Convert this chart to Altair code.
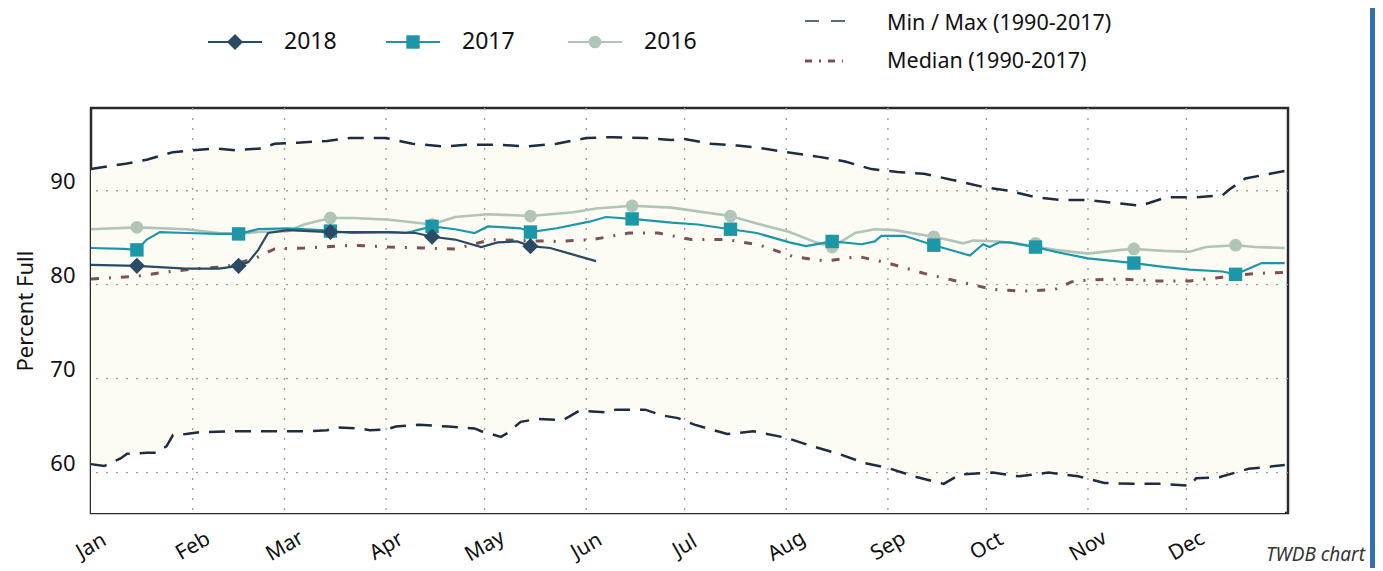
import altair as alt
import pandas as pd

YEAR = 2017

# ---- Historical envelope (1990-2017) ----
max_dates = ["01-01", "01-12", "01-18", "01-26", "02-01", "02-08", "02-14", "02-22", "02-26",
             "03-05", "03-14", "03-21", "04-01", "04-09", "04-19", "04-26", "05-05", "05-14",
             "05-23", "06-01", "06-09", "06-19", "06-27", "07-01", "07-09", "07-17", "07-23",
             "08-01", "08-11", "08-19", "08-27", "09-04", "09-12", "09-20", "09-30", "10-08",
             "10-16", "10-24", "11-01", "11-09", "11-17", "11-25", "12-04", "12-12", "12-14",
             "12-19", "12-31"]
max_vals = [92.3, 92.9, 93.3, 94.1, 94.3, 94.5, 94.3, 94.5, 95.0,
            95.1, 95.3, 95.6, 95.6, 95.0, 94.7, 94.9, 94.9, 94.7,
            95.0, 95.6, 95.7, 95.6, 95.4, 95.5, 95.0, 94.8, 94.6,
            94.1, 93.6, 93.1, 92.3, 92.0, 91.8, 91.2, 90.4, 90.0,
            89.3, 89.0, 89.0, 88.7, 88.4, 89.3, 89.3, 89.5, 90.1,
            91.3, 92.1]

min_dates = ["01-01", "01-05", "01-10", "01-12", "01-18", "01-21", "01-24", "01-26", "01-30",
             "02-03", "02-13", "02-28", "03-07", "03-14", "03-17", "03-24", "03-27", "04-01",
             "04-04", "04-11", "04-20", "04-28", "04-30", "05-06", "05-08", "05-12", "05-17",
             "05-25", "05-30", "06-07", "06-10", "06-19", "06-24", "06-29", "07-04", "07-14",
             "07-22", "08-01", "08-09", "08-17", "08-25", "09-01", "09-09", "09-18", "09-23",
             "10-03", "10-11", "10-20", "10-29", "11-06", "11-15", "11-24", "12-02", "12-04",
             "12-11", "12-20", "12-31"]
min_vals = [60.9, 60.7, 61.5, 62.0, 62.1, 62.1, 62.8, 64.0, 64.1,
            64.3, 64.4, 64.4, 64.4, 64.5, 64.8, 64.7, 64.5, 64.6,
            64.9, 65.1, 64.9, 64.7, 64.4, 63.8, 64.2, 65.4, 65.7,
            65.6, 66.6, 66.4, 66.7, 66.7, 66.1, 65.8, 65.1, 64.1,
            64.4, 63.7, 62.8, 62.0, 61.0, 60.5, 59.6, 58.8, 59.8,
            60.0, 59.6, 60.0, 59.6, 58.9, 58.8, 58.8, 58.6, 59.4,
            59.5, 60.4, 60.8]

med_dates = ["01-01", "01-15", "01-23", "02-02", "02-11", "02-20", "02-26", "03-07", "03-22",
             "04-02", "04-12", "04-22", "05-03", "05-12", "05-23", "06-03", "06-14", "06-23",
             "07-03", "07-14", "07-24", "08-03", "08-13", "08-23", "09-01", "09-12", "09-23",
             "10-03", "10-12", "10-22", "10-27", "11-01", "11-11", "11-22", "12-02", "12-12",
             "12-22", "12-31"]
med_vals = [80.6, 80.9, 81.3, 81.7, 81.9, 82.8, 83.8, 83.9, 84.2,
            84.0, 83.9, 83.8, 84.8, 84.7, 84.6, 84.8, 85.5, 85.5,
            84.8, 84.8, 84.2, 83.0, 82.5, 83.0, 82.3, 81.2, 80.3,
            79.5, 79.3, 79.5, 80.3, 80.5, 80.6, 80.4, 80.4, 80.8,
            81.2, 81.3]

# ---- Yearly series ----
y2016_dates = ["01-01", "01-15", "01-30", "02-09", "02-15", "02-21", "03-02", "03-07", "03-15",
               "03-22", "04-02", "04-15", "04-22", "05-02", "05-15", "05-28", "06-04", "06-15",
               "06-27", "07-05", "07-15", "07-23", "08-02", "08-10", "08-15", "08-22", "08-28",
               "09-03", "09-15", "09-24", "09-27", "10-05", "10-10", "10-22", "11-01", "11-11",
               "11-15", "11-24", "12-02", "12-07", "12-16", "12-22", "12-31"]
y2016_vals = [85.9, 86.1, 85.9, 85.5, 85.4, 85.6, 85.7, 86.4, 87.1,
              87.1, 86.9, 86.4, 87.2, 87.5, 87.3, 87.7, 88.1, 88.4,
              88.2, 87.8, 87.3, 86.5, 85.6, 84.5, 84.0, 85.5, 85.9,
              85.8, 85.1, 84.4, 84.7, 84.6, 84.4, 83.7, 83.3, 83.7,
              83.8, 83.6, 83.5, 84.0, 84.2, 84.0, 83.9]

y2017_dates = ["01-01", "01-11", "01-15", "01-18", "01-22", "01-30", "02-09", "02-15", "02-21",
               "03-02", "03-12", "03-22", "04-02", "04-07", "04-15", "04-22", "04-28", "05-02",
               "05-12", "05-15", "05-23", "06-02", "06-07", "06-15", "06-27", "07-05", "07-15",
               "07-23", "08-02", "08-07", "08-15", "08-24", "08-28", "08-30", "09-06", "09-15",
               "09-22", "09-26", "09-30", "10-02", "10-05", "10-08", "10-16", "10-22", "11-01",
               "11-15", "11-24", "12-02", "12-12", "12-16", "12-24", "12-31"]
y2017_vals = [83.9, 83.8, 83.7, 84.8, 85.6, 85.5, 85.4, 85.4, 85.9,
              86.0, 85.8, 85.5, 85.6, 85.5, 86.2, 85.9, 85.5, 86.2,
              86.0, 85.6, 86.0, 86.7, 87.2, 87.0, 86.6, 86.4, 85.9,
              85.5, 84.5, 84.1, 84.6, 84.3, 84.6, 85.2, 85.2, 84.2,
              83.5, 83.1, 84.3, 84.0, 84.5, 84.5, 84.0, 83.5, 82.8,
              82.3, 81.9, 81.6, 81.4, 81.1, 82.3, 82.3]

y2018_dates = ["01-01", "01-15", "01-30", "02-09", "02-15", "02-18", "02-21", "02-24", "03-02",
               "03-15", "03-22", "04-01", "04-10", "04-15", "04-22", "04-30", "05-05", "05-11",
               "05-15", "05-21", "05-27", "06-04"]
y2018_vals = [82.1, 82.0, 81.7, 81.7, 82.0, 82.4, 83.7, 85.5, 85.8,
              85.6, 85.6, 85.6, 85.5, 85.1, 84.8, 84.0, 84.5, 84.6,
              84.1, 83.9, 83.3, 82.5]

# ---- Markers (15th of each month) ----
mark2016_dates = ["01-15", "02-15", "03-15", "04-15", "05-15", "06-15", "07-15", "08-15",
                  "09-15", "10-16", "11-15", "12-16"]
mark2016_vals = [86.1, 85.4, 87.1, 86.4, 87.3, 88.4, 87.3, 84.0, 85.1, 84.4, 83.8, 84.2]
mark2017_dates = ["01-15", "02-15", "03-15", "04-15", "05-15", "06-15", "07-15", "08-15",
                  "09-15", "10-16", "11-15", "12-16"]
mark2017_vals = [83.7, 85.4, 85.7, 86.2, 85.6, 87.0, 85.9, 84.6, 84.2, 84.0, 82.3, 81.1]
mark2018_dates = ["01-15", "02-15", "03-15", "04-15", "05-15"]
mark2018_vals = [82.0, 82.0, 85.6, 85.1, 84.1]

y_ticks = [60, 70, 80, 90]
month_starts = ["01-01", "02-01", "03-01", "04-01", "05-01", "06-01", "07-01", "08-01",
                "09-01", "10-01", "11-01", "12-01"]

# ---- styling ----
C2018 = "#2b4a63"
C2017 = "#1b97a8"
C2016 = "#b0c4b8"
CMAX = "#1d2d3e"
CMED = "#7d5058"
BAND = "#fcfcf4"
FONT = "Noto Sans"
Y_LO, Y_HI = 55.7, 98.8
W, H = 1197, 405


def frame(dates, vals):
    return pd.DataFrame({"date": [f"{YEAR}-{d}" for d in dates], "value": vals})


xscale = alt.Scale(domain=[alt.DateTime(year=YEAR, month=1, date=1),
                           alt.DateTime(year=YEAR + 1, month=1, date=1)])
yscale = alt.Scale(domain=[Y_LO, Y_HI], nice=False, zero=False)
xaxis = alt.Axis(values=[alt.DateTime(year=YEAR, month=m, date=1) for m in range(1, 13)],
                 format="%b", labelAngle=-30, labelAlign="center", labelBaseline="middle",
                 labelPadding=33, labelOffset=0, labelFontSize=21, labelColor="#111",
                 labelFont=FONT, ticks=False, tickSize=0, domain=False, grid=False,
                 labelBound=False, labelFlush=False, title=None)
yaxis = alt.Axis(values=y_ticks, labelFontSize=22, labelColor="#111", labelFont=FONT,
                 labelPadding=16, labelOffset=-9, ticks=False, tickSize=0, domain=False,
                 grid=False, title="Percent Full", titleFontSize=22, titleFont=FONT,
                 titleFontWeight="normal", titleColor="#111", titlePadding=12)

X = alt.X("date:T", scale=xscale, axis=xaxis)
Y = alt.Y("value:Q", scale=yscale, axis=yaxis)

df_max = frame(max_dates, max_vals)
df_min = frame(min_dates, min_vals)

band_top = alt.Chart(df_max).mark_area(color=BAND, opacity=1).encode(
    x=X, y=Y, y2=alt.datum(Y_LO))
band_bottom = alt.Chart(df_min).mark_area(color="white", opacity=1).encode(
    x=X, y=Y, y2=alt.datum(Y_LO))

grid_v = alt.Chart(pd.DataFrame({"date": [f"{YEAR}-{d}" for d in month_starts[1:]]})).mark_rule(
    color="#a0a0a0", strokeDash=[2, 8], strokeWidth=1.4).encode(x=X)
grid_h = alt.Chart(pd.DataFrame({"value": y_ticks})).mark_rule(
    color="#a0a0a0", strokeDash=[2, 8], strokeWidth=1.4).encode(y=Y)

max_line = alt.Chart(df_max).mark_line(color=CMAX, strokeDash=[16, 10], strokeWidth=2.5).encode(x=X, y=Y)
min_line = alt.Chart(df_min).mark_line(color=CMAX, strokeDash=[16, 10], strokeWidth=2.5).encode(x=X, y=Y)
med_line = alt.Chart(frame(med_dates, med_vals)).mark_line(
    color=CMED, strokeDash=[8, 10, 2, 10], strokeWidth=3).encode(x=X, y=Y)

l2016 = alt.Chart(frame(y2016_dates, y2016_vals)).mark_line(color=C2016, strokeWidth=2.6).encode(x=X, y=Y)
l2017 = alt.Chart(frame(y2017_dates, y2017_vals)).mark_line(color=C2017, strokeWidth=2.2).encode(x=X, y=Y)
l2018 = alt.Chart(frame(y2018_dates, y2018_vals)).mark_line(color=C2018, strokeWidth=2.2).encode(x=X, y=Y)

p2016 = alt.Chart(frame(mark2016_dates, mark2016_vals)).mark_point(
    shape="circle", filled=True, size=160, color=C2016, opacity=1).encode(x=X, y=Y)
p2017 = alt.Chart(frame(mark2017_dates, mark2017_vals)).mark_point(
    shape="square", filled=True, size=180, color=C2017, opacity=1).encode(x=X, y=Y)
p2018 = alt.Chart(frame(mark2018_dates, mark2018_vals)).mark_point(
    shape="diamond", filled=True, size=260, color=C2018, opacity=1).encode(x=X, y=Y)

# ---- legend (drawn manually above the plot) ----
legend_labels = ["2018", "2017", "2016"]
legend_shapes = ["diamond", "square", "circle"]
legend_colors = [C2018, C2017, C2016]
legend_sizes = [260, 180, 160]
legend_x0 = [117, 295, 477]
legend_layers = []
one = pd.DataFrame({"k": [0]})
for lab, shp, col, sz, x0 in zip(legend_labels, legend_shapes, legend_colors, legend_sizes, legend_x0):
    legend_layers.append(alt.Chart(one).mark_rule(color=col, strokeWidth=2.2).encode(
        x=alt.value(x0), x2=alt.value(x0 + 54), y=alt.value(-66)))
    legend_layers.append(alt.Chart(one).mark_point(shape=shp, filled=True, size=sz, color=col,
                                                   opacity=1).encode(
        x=alt.value(x0 + 27), y=alt.value(-66)))
    legend_layers.append(alt.Chart(one).mark_text(text=lab, align="left", baseline="middle",
                                                  fontSize=23, font=FONT, color="#111").encode(
        x=alt.value(x0 + 76), y=alt.value(-66)))

legend_layers.append(alt.Chart(one).mark_rule(color="#5a6b7c", strokeWidth=2.2,
                                              strokeDash=[14, 12]).encode(
    x=alt.value(714), x2=alt.value(754), y=alt.value(-87)))
legend_layers.append(alt.Chart(one).mark_text(text="Min / Max (1990-2017)", align="left",
                                              baseline="middle", fontSize=21.5, font=FONT,
                                              color="#111").encode(
    x=alt.value(796), y=alt.value(-84)))
legend_layers.append(alt.Chart(one).mark_rule(color=CMED, strokeWidth=3,
                                              strokeDash=[7, 7, 2, 7]).encode(
    x=alt.value(714), x2=alt.value(752), y=alt.value(-47)))
legend_layers.append(alt.Chart(one).mark_text(text="Median (1990-2017)", align="left",
                                              baseline="middle", fontSize=21.5, font=FONT,
                                              color="#111").encode(
    x=alt.value(796), y=alt.value(-46.5)))

credit = alt.Chart(one).mark_text(text="TWDB chart", align="right", baseline="middle",
                                  fontSize=19, font=FONT, fontStyle="italic",
                                  color="#333").encode(x=alt.value(1274), y=alt.value(447))
side_bar = alt.Chart(one).mark_rule(color="#3470b6", strokeWidth=5).encode(
    x=alt.value(1281.5), y=alt.value(-110), y2=alt.value(470))

chart = alt.layer(
    band_top, band_bottom, grid_v, grid_h,
    max_line, min_line, med_line,
    l2016, l2017, l2018, p2016, p2017, p2018,
    *legend_layers, credit, side_bar
).properties(
    width=W, height=H,
    padding={"left": 83, "top": 100, "right": 87, "bottom": 55},
    autosize=alt.AutoSizeParams(type="none"),
    background="white",
).configure_view(stroke="#2a2a2a", strokeWidth=2.5)

chart.save("out.html", embed_options={"renderer": "svg", "actions": False})
